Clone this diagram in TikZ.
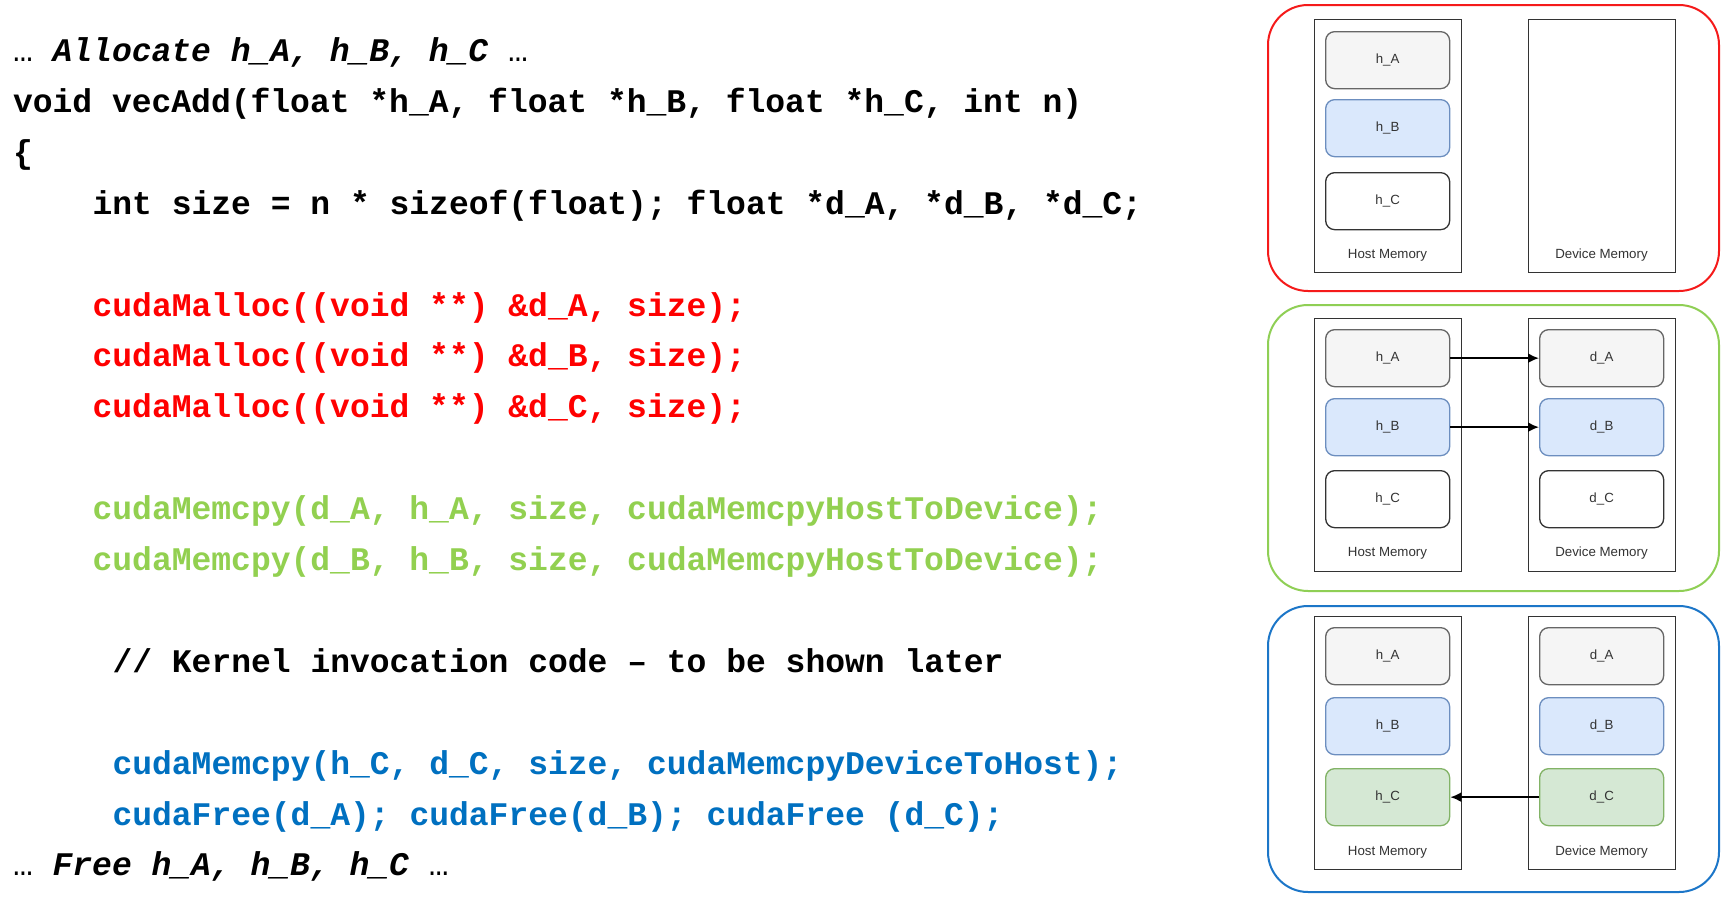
\documentclass[tikz,border=0pt]{standalone}
\usepackage{fontspec}
\setmonofont{Liberation Mono}
\setsansfont{Liberation Sans}
\usetikzlibrary{arrows.meta}
\definecolor{cred}{HTML}{FF0000}
\definecolor{cgreen}{HTML}{92D050}
\definecolor{cblue}{HTML}{0070C0}
\definecolor{pred}{HTML}{F51A1A}
\definecolor{pgreen}{HTML}{8FCF55}
\definecolor{pblue}{HTML}{1C76C8}
\definecolor{grayfill}{HTML}{F5F5F5}
\definecolor{graydraw}{HTML}{666666}
\definecolor{bluefill}{HTML}{DAE8FC}
\definecolor{bluedraw}{HTML}{6C8EBF}
\definecolor{greenfill}{HTML}{D5E8D4}
\definecolor{greendraw}{HTML}{82B366}
\definecolor{darktext}{HTML}{333333}
\tikzset{
  codeline/.style={anchor=base west, inner sep=0pt, outer sep=0pt,
    font=\ttfamily\bfseries\fontsize{33}{40}\selectfont},
  panel/.style={draw=#1, line width=2pt, rounded corners=40pt, anchor=north west,
    minimum width=451pt, minimum height=286pt, inner sep=0pt},
  memrect/.style={draw=darktext, line width=1.3pt, anchor=north west,
    minimum width=147pt, minimum height=253pt, inner sep=0pt},
  memlabel/.style={font=\sffamily\fontsize{13.3}{15}\selectfont, text=darktext, inner sep=0pt},
  membox/.style={line width=1.3pt, rounded corners=9pt, anchor=north west,
    minimum width=124pt, minimum height=57pt, inner sep=0pt,
    font=\sffamily\fontsize{13.3}{15}\selectfont, text=darktext},
  graybox/.style={membox, fill=grayfill, draw=graydraw},
  bluebox/.style={membox, fill=bluefill, draw=bluedraw},
  whitebox/.style={membox, fill=white, draw=darktext},
  greenbox/.style={membox, fill=greenfill, draw=greendraw},
  copyarrow/.style={line width=2pt, -{Latex[length=11pt,width=10pt]}}
}
\begin{document}
\begin{tikzpicture}[x=1pt,y=-1pt]
\useasboundingbox[fill=white] (0,0) rectangle (1729,902);

% ---------------- code ----------------
\node[codeline] (l1) at (13,61.5) {\mdseries\upshape …\ \bfseries\itshape Allocate h\_A, h\_B, h\_C \mdseries\upshape …};
\node[codeline] (l2) at (13,112.4) {void vecAdd(float *h\_A, float *h\_B, float *h\_C, int n)};
\node[codeline] (l3) at (13,163.3) {\{};
\node[codeline] (l4) at (92.6,214.2) {int size = n * sizeof(float); float *d\_A, *d\_B, *d\_C;};
\node[codeline, text=cred] (l5) at (92.6,316) {cudaMalloc((void **) \&d\_A, size);};
\node[codeline, text=cred] (l6) at (92.6,366.9) {cudaMalloc((void **) \&d\_B, size);};
\node[codeline, text=cred] (l7) at (92.6,417.8) {cudaMalloc((void **) \&d\_C, size);};
\node[codeline, text=cgreen] (l8) at (92.6,519.6) {cudaMemcpy(d\_A, h\_A, size, cudaMemcpyHostToDevice);};
\node[codeline, text=cgreen] (l9) at (92.6,570.5) {cudaMemcpy(d\_B, h\_B, size, cudaMemcpyHostToDevice);};
\node[codeline] (l10) at (112.5,672.3) {// Kernel invocation code – to be shown later};
\node[codeline, text=cblue] (l11) at (112.5,774.1) {cudaMemcpy(h\_C, d\_C, size, cudaMemcpyDeviceToHost);};
\node[codeline, text=cblue] (l12) at (112.5,825) {cudaFree(d\_A); cudaFree(d\_B); cudaFree (d\_C);};
\node[codeline] (l13) at (13,875.9) {\mdseries\upshape …\ \bfseries\itshape Free h\_A, h\_B, h\_C \mdseries\upshape …};

% ---------------- panel 1 (red) ----------------
\node[panel=pred] (p1) at (1267,4) {};
\node[memrect] (h1) at (1314,19) {};
\node[memrect] (d1) at (1528,19) {};
\node[memlabel] (h1l) at (1387.5,255) {Host Memory};
\node[memlabel] (d1l) at (1601.5,255) {Device Memory};
\node[graybox] (h1a) at (1325,31) {h\_A};
\node[bluebox] (h1b) at (1325,99) {h\_B};
\node[whitebox] (h1c) at (1325,172) {h\_C};

% ---------------- panel 2 (green) ----------------
\node[panel=pgreen] (p2) at (1267,304) {};
\node[memrect] (h2) at (1314,318) {};
\node[memrect] (d2) at (1528,318) {};
\node[memlabel] (h2l) at (1387.5,553) {Host Memory};
\node[memlabel] (d2l) at (1601.5,553) {Device Memory};
\node[graybox] (h2a) at (1325,329) {h\_A};
\node[bluebox] (h2b) at (1325,398) {h\_B};
\node[whitebox] (h2c) at (1325,470) {h\_C};
\node[graybox] (d2a) at (1539,329) {d\_A};
\node[bluebox] (d2b) at (1539,398) {d\_B};
\node[whitebox] (d2c) at (1539,470) {d\_C};
\draw[copyarrow] (h2a.east) -- (d2a.west);
\draw[copyarrow] (h2b.east) -- (d2b.west);

% ---------------- panel 3 (blue) ----------------
\node[panel=pblue] (p3) at (1267,605) {};
\node[memrect] (h3) at (1314,616) {};
\node[memrect] (d3) at (1528,616) {};
\node[memlabel] (h3l) at (1387.5,852) {Host Memory};
\node[memlabel] (d3l) at (1601.5,852) {Device Memory};
\node[graybox] (h3a) at (1325,627) {h\_A};
\node[bluebox] (h3b) at (1325,697) {h\_B};
\node[greenbox] (h3c) at (1325,768) {h\_C};
\node[graybox] (d3a) at (1539,627) {d\_A};
\node[bluebox] (d3b) at (1539,697) {d\_B};
\node[greenbox] (d3c) at (1539,768) {d\_C};
\draw[copyarrow] (d3c.west) -- (h3c.east);
\end{tikzpicture}
\end{document}
